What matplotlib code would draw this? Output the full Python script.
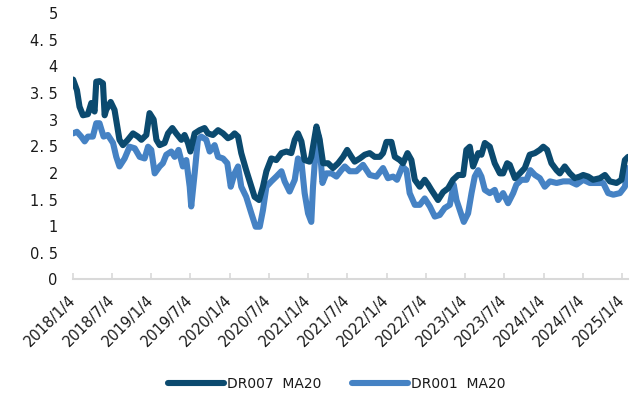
import matplotlib
matplotlib.use("Agg")
import matplotlib.pyplot as plt
import pandas as pd
import numpy as np

plt.rcParams['font.family'] = ['DejaVu Sans']

start_date = "2018-01-04"

# DR007 MA20: days since start_date, value (%)
dr007_days = [0, 18, 30, 46, 69, 85, 100, 108, 123, 139, 147, 154, 175, 193, 216, 232, 255, 279,
              302, 318, 341, 356, 375, 388, 403, 426, 442, 462, 480, 504, 519, 535, 546, 566, 589,
              612, 628, 651, 675, 698, 721, 737, 752, 768, 783, 806, 830, 845, 866, 884, 900, 923,
              946, 970, 993, 1016, 1032, 1047, 1063, 1078, 1101, 1109, 1133, 1148, 1164, 1187,
              1210, 1234, 1257, 1276, 1296, 1311, 1335, 1358, 1381, 1404, 1428, 1443, 1459, 1482,
              1498, 1521, 1536, 1557, 1575, 1591, 1614, 1637, 1653, 1668, 1699, 1723, 1746, 1769,
              1793, 1816, 1831, 1847, 1862, 1886, 1901, 1917, 1940, 1963, 1987, 2002, 2021, 2033,
              2057, 2080, 2103, 2126, 2150, 2173, 2189, 2207, 2227, 2251, 2266, 2289, 2313, 2336,
              2359, 2375, 2398, 2421, 2453, 2476, 2499, 2530, 2553, 2569, 2584]
dr007_vals = [3.75, 3.55, 3.24, 3.08, 3.10, 3.31, 3.15, 3.71, 3.72, 3.68, 3.08, 3.18, 3.33, 3.18,
              2.62, 2.52, 2.62, 2.74, 2.68, 2.62, 2.71, 3.12, 3.00, 2.62, 2.52, 2.56, 2.74, 2.84,
              2.74, 2.62, 2.71, 2.56, 2.40, 2.74, 2.80, 2.84, 2.74, 2.71, 2.80, 2.74, 2.65, 2.68,
              2.74, 2.68, 2.37, 2.05, 1.74, 1.55, 1.49, 1.74, 2.03, 2.27, 2.24, 2.37, 2.40, 2.37,
              2.62, 2.74, 2.59, 2.24, 2.21, 2.30, 2.87, 2.62, 2.18, 2.18, 2.09, 2.18, 2.30, 2.43,
              2.30, 2.21, 2.27, 2.34, 2.37, 2.30, 2.30, 2.37, 2.58, 2.58, 2.30, 2.24, 2.18, 2.37,
              2.24, 1.87, 1.74, 1.87, 1.78, 1.68, 1.49, 1.64, 1.71, 1.87, 1.96, 1.96, 2.43, 2.49,
              2.12, 2.37, 2.34, 2.56, 2.49, 2.18, 1.99, 1.99, 2.18, 2.15, 1.90, 1.99, 2.09, 2.34,
              2.37, 2.43, 2.49, 2.43, 2.18, 2.05, 1.99, 2.12, 1.99, 1.90, 1.93, 1.96, 1.93, 1.87,
              1.90, 1.96, 1.84, 1.81, 1.87, 2.24, 2.30]

# DR001 MA20
dr001_days = [0, 18, 38, 54, 69, 92, 108, 123, 142, 162, 186, 201, 216, 240, 263, 287, 310, 333,
              349, 364, 380, 403, 418, 434, 457, 473, 491, 511, 527, 543, 550, 566, 581, 597, 620,
              636, 659, 675, 698, 718, 734, 752, 768, 783, 806, 830, 850, 869, 884, 900, 923, 946,
              970, 985, 1008, 1032, 1047, 1063, 1078, 1094, 1109, 1117, 1133, 1145, 1161, 1179,
              1203, 1226, 1249, 1265, 1288, 1319, 1350, 1381, 1412, 1443, 1466, 1490, 1508, 1533,
              1552, 1567, 1591, 1614, 1637, 1661, 1684, 1707, 1730, 1754, 1772, 1785, 1808, 1819,
              1839, 1855, 1870, 1886, 1901, 1917, 1940, 1963, 1979, 2002, 2025, 2049, 2064, 2088,
              2111, 2129, 2150, 2173, 2196, 2220, 2251, 2282, 2313, 2344, 2375, 2406, 2437, 2468,
              2491, 2515, 2546, 2569, 2584]
dr001_vals = [2.74, 2.77, 2.68, 2.59, 2.68, 2.68, 2.93, 2.93, 2.68, 2.71, 2.56, 2.30, 2.12, 2.27,
              2.49, 2.46, 2.30, 2.27, 2.49, 2.43, 1.99, 2.12, 2.18, 2.34, 2.40, 2.30, 2.43, 2.12,
              2.24, 1.74, 1.37, 1.99, 2.62, 2.68, 2.62, 2.40, 2.52, 2.30, 2.27, 2.18, 1.74, 1.99,
              2.12, 1.74, 1.55, 1.24, 0.99, 0.99, 1.30, 1.74, 1.84, 1.93, 2.03, 1.84, 1.65, 1.87,
              2.27, 2.21, 1.62, 1.24, 1.08, 1.74, 2.62, 2.68, 1.81, 1.99, 1.99, 1.93, 2.05, 2.12,
              2.03, 2.03, 2.15, 1.96, 1.93, 2.09, 1.90, 1.93, 1.87, 2.12, 2.05, 1.62, 1.40, 1.40,
              1.52, 1.37, 1.18, 1.21, 1.34, 1.40, 1.78, 1.49, 1.21, 1.08, 1.24, 1.62, 1.93, 2.05,
              1.93, 1.68, 1.62, 1.68, 1.49, 1.62, 1.43, 1.62, 1.78, 1.87, 1.87, 2.05, 1.96, 1.90,
              1.74, 1.84, 1.81, 1.84, 1.84, 1.78, 1.87, 1.81, 1.81, 1.81, 1.62, 1.59, 1.62, 1.74,
              2.09]

tick_dates = ["2018-01-04", "2018-07-04", "2019-01-04", "2019-07-04", "2020-01-04", "2020-07-04",
              "2021-01-04", "2021-07-04", "2022-01-04", "2022-07-04", "2023-01-04", "2023-07-04",
              "2024-01-04", "2024-07-04", "2025-01-04"]
y_ticks = [0, 0.5, 1, 1.5, 2, 2.5, 3, 3.5, 4, 4.5, 5]
y_tick_labels = ["0", "0. 5", "1", "1. 5", "2", "2. 5", "3", "3. 5", "4", "4. 5", "5"]
series_names = ["DR007  MA20", "DR001  MA20"]

c_dark = "#0B4A6F"
c_light = "#4582C4"

t0 = pd.Timestamp(start_date)
x7 = t0 + pd.to_timedelta(dr007_days, unit="D")
x1 = t0 + pd.to_timedelta(dr001_days, unit="D")

fig = plt.figure(figsize=(6.3, 4.03), dpi=100)
ax = fig.add_axes([0.116, 0.3065, 0.881, 0.6615])

ax.plot(x7, dr007_vals, color=c_dark, lw=4.4, solid_joinstyle="round", solid_capstyle="round",
        label=series_names[0], zorder=3)
ax.plot(x1, dr001_vals, color=c_light, lw=4.4, solid_joinstyle="round", solid_capstyle="round",
        label=series_names[1], zorder=2)

ax.set_ylim(0, 5)
ax.set_yticks(y_ticks)
ax.set_yticklabels(y_tick_labels)
ax.set_xlim(x7[0], x7[-1])

td = pd.to_datetime(tick_dates)
ax.set_xticks(td)
ax.set_xticklabels([f"{d.year}/{d.month}/{d.day}" for d in td], rotation=45, ha="right",
                   va="center", rotation_mode="anchor")

for s in ["top", "right", "left"]:
    ax.spines[s].set_visible(False)
ax.spines["bottom"].set_color("#D9D9D9")
ax.spines["bottom"].set_linewidth(1.5)
ax.spines["bottom"].set_clip_on(False)
ax.tick_params(axis="y", length=0, pad=11, labelsize=10.5, colors="#1A1A1A")
ax.tick_params(axis="x", direction="in", length=4, width=1.2, color="#D9D9D9", pad=13,
               labelsize=10.5, labelcolor="#1A1A1A")

leg = fig.legend(loc="lower center", bbox_to_anchor=(0.535, 0.0), ncol=2, frameon=False,
                 handlelength=4.0, fontsize=10, columnspacing=2.2, handletextpad=0.25)
for t in leg.get_texts():
    t.set_color("#1A1A1A")

fig.savefig("out.png", dpi=100)
